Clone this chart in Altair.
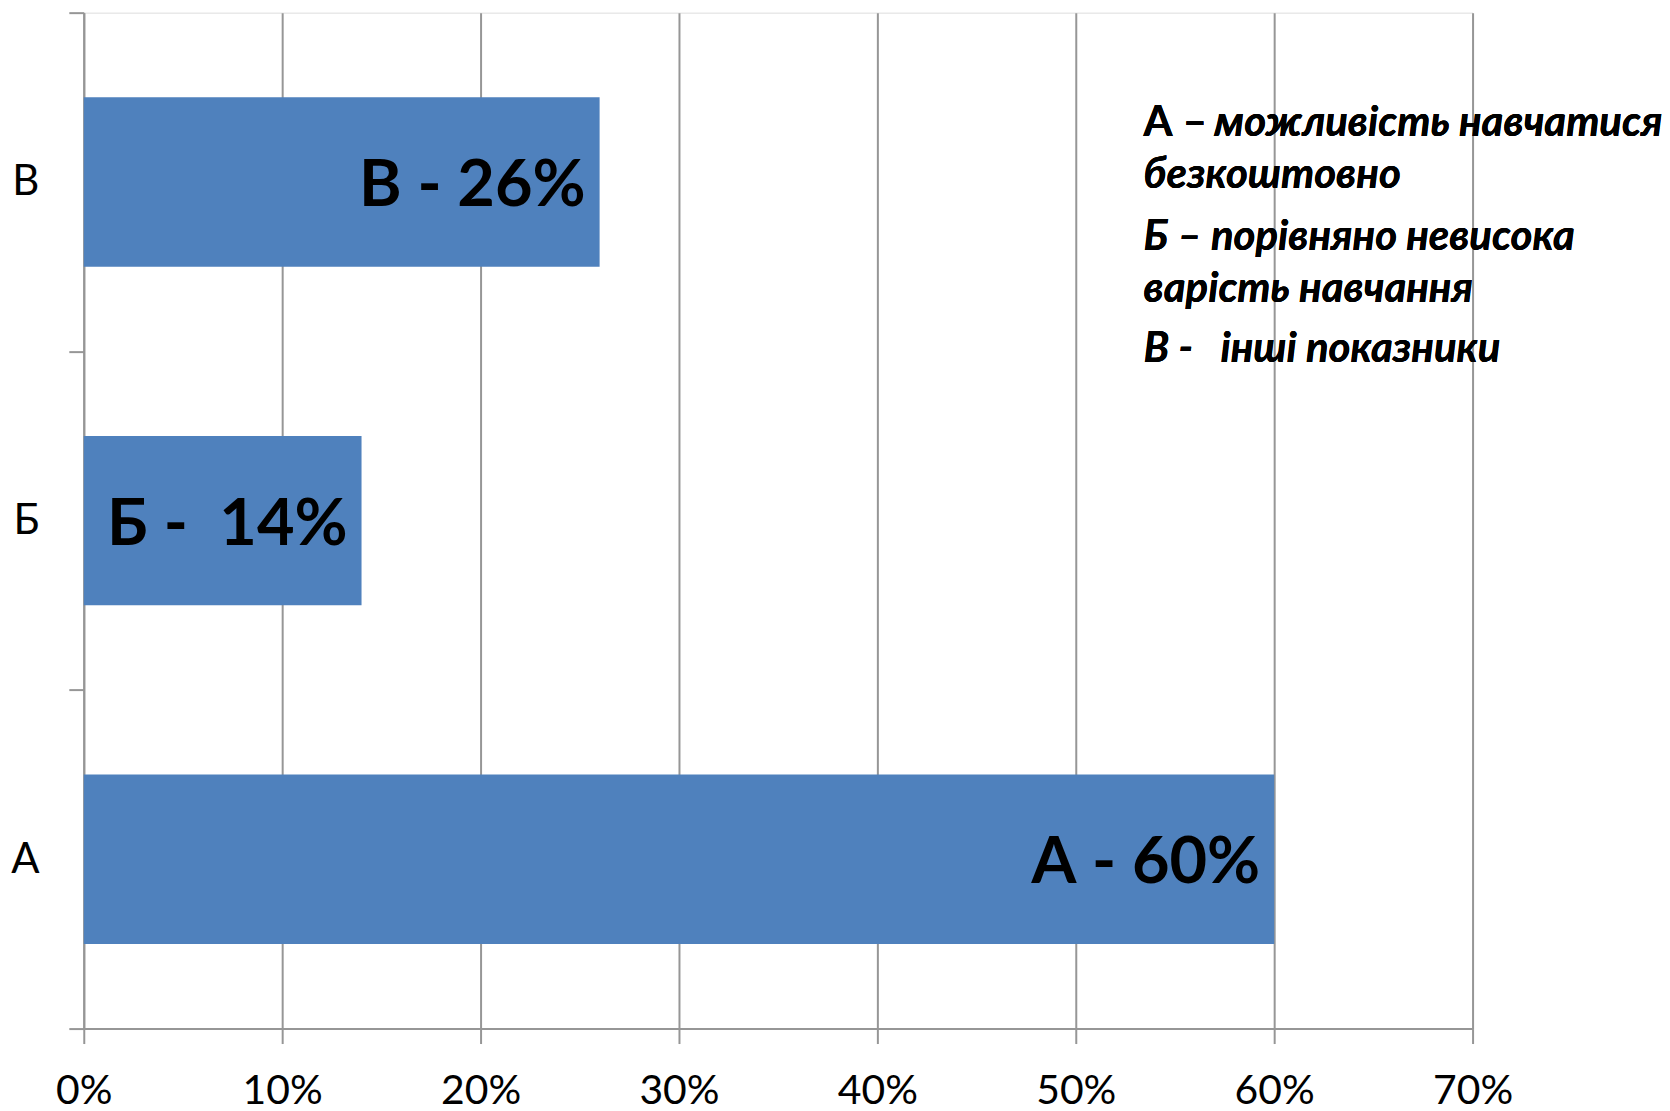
import altair as alt
import pandas as pd

categories = ["А", "Б", "В"]
values = [0.60, 0.14, 0.26]
bar_labels = ["А - 60%", "Б -\u00a0\u00a014%", "В - 26%"]
order = ["В", "Б", "А"]

legend_1a = "А –"
legend_1b = ["можливість навчатися"]
legend_1c = ["безкоштовно"]
legend_2 = ["Б – порівняно невисока", "варість навчання"]
legend_3 = ["В -\u00a0\u00a0\u00a0інші показники"]

df = pd.DataFrame({"cat": categories, "val": values, "label": bar_labels})

FONT = "Lato"
W, H = 1393, 1019
GRID = "#969696"

y_enc = alt.Y(
    "cat:N",
    sort=order,
    scale=alt.Scale(paddingInner=0, paddingOuter=0),
    axis=alt.Axis(
        title=None, labelFontSize=42, labelFont=FONT, labelColor="black",
        labelPadding=30, tickSize=15, tickColor=GRID, tickWidth=2,
        tickBand="extent", domainColor=GRID, domainWidth=2, grid=False,
    ),
)
x_enc = alt.X(
    "val:Q",
    scale=alt.Scale(domain=[0, 0.7], nice=False),
    axis=alt.Axis(
        title=None, format=".0%", values=[0, 0.1, 0.2, 0.3, 0.4, 0.5, 0.6, 0.7],
        labelFontSize=41, labelFont=FONT, labelColor="black", labelPadding=28,
        labelFlush=False,
        tickSize=15, tickColor=GRID, tickWidth=2,
        domainColor=GRID, domainWidth=2,
        grid=True, gridColor=GRID, gridWidth=2,
    ),
)

bars = alt.Chart(df).mark_bar(color="#4F81BD", height=alt.RelativeBandSize(0.5)).encode(x=x_enc, y=y_enc)
labels = alt.Chart(df).mark_text(
    align="right", baseline="middle", dx=-14, dy=4, fontSize=65,
    fontWeight="bold", font=FONT, color="black",
).encode(x="val:Q", y=alt.Y("cat:N", sort=order), text="label:N")

LX = 1063
LX2 = 1134
FS = 42
common = dict(align="left", baseline="middle", fontSize=FS, fontWeight="bold", font=FONT,
              color="black", lineHeight=52)
leg1a = alt.Chart(df).mark_text(**common).encode(
    x=alt.value(LX), y=alt.value(111), text=alt.value(legend_1a))
leg1b = alt.Chart(df).mark_text(fontStyle="italic", **common).encode(
    x=alt.value(LX2), y=alt.value(111), text=alt.value(legend_1b))
leg1c = alt.Chart(df).mark_text(fontStyle="italic", **common).encode(
    x=alt.value(LX), y=alt.value(163), text=alt.value(legend_1c))
leg2 = alt.Chart(df).mark_text(fontStyle="italic", **common).encode(
    x=alt.value(LX), y=alt.value(225), text=alt.value(legend_2))
leg3 = alt.Chart(df).mark_text(fontStyle="italic", **common).encode(
    x=alt.value(LX), y=alt.value(337), text=alt.value(legend_3))

chart = alt.layer(bars, labels, leg1a, leg1b, leg1c, leg2, leg3).properties(
    width=W, height=H,
    autosize=alt.AutoSizeParams(type="none"),
    padding={"left": 76, "top": 3, "right": 190, "bottom": 80},
).configure_view(stroke=None).configure(background="white")

chart.save("out.html", embed_options={"renderer": "svg", "actions": False})
